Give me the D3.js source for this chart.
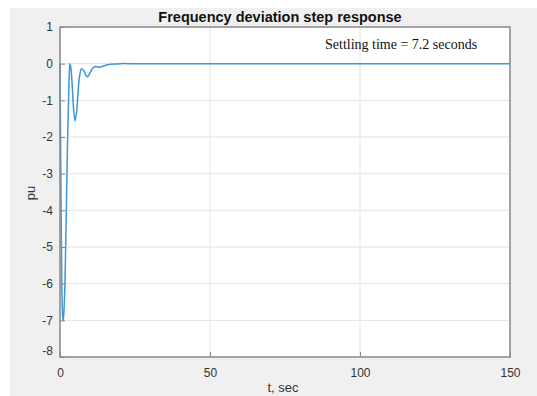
<!DOCTYPE html>
<html><head><meta charset="utf-8">
<script src="https://cdn.jsdelivr.net/npm/d3@7"></script>
<style>body{margin:0;background:#fff;}svg{display:block;}</style>
</head><body>
<script>
const title = "Frequency deviation step response";
const xLabel = "t, sec";
const yLabel = "pu";
const annotation = "Settling time = 7.2 seconds";
const xTicks = [0, 50, 100, 150];
const yTicks = [1, 0, -1, -2, -3, -4, -5, -6, -7, -8];
const tValues = [0, 0.3, 0.6, 0.9, 1.1, 1.5, 2.0, 2.5, 3.0, 3.3, 3.6, 4.0, 4.5, 5.0, 5.5, 6.0, 6.5, 7.2, 8.0, 8.6, 9.1, 9.7, 10.5, 11.2, 12.0, 13, 14, 15, 16, 18, 20, 25, 30, 150];
const yValues = [0, -3.2, -6.0, -6.9, -7.0, -6.4, -4.5, -2.2, -0.5, 0.0, -0.1, -0.5, -1.2, -1.56, -1.35, -0.8, -0.35, -0.14, -0.2, -0.32, -0.36, -0.3, -0.17, -0.1, -0.08, -0.1, -0.08, -0.05, -0.03, -0.01, 0, 0, 0, 0];

const W = 537, H = 396;
const svg = d3.select("body").append("svg").attr("width", W).attr("height", H);
svg.append("rect").attr("x", 10).attr("y", 8).attr("width", W - 10).attr("height", H - 8).attr("fill", "#f0f0f0");

const L = 60, R = 510, T = 27, B = 357;
const x = d3.scaleLinear().domain([0, 150]).range([L, R]);
const y = d3.scaleLinear().domain([-8, 1]).range([B, T]);

svg.append("rect").attr("x", L).attr("y", T).attr("width", R - L).attr("height", B - T).attr("fill", "#fff");

const grid = svg.append("g");
grid.selectAll(".gx").data(xTicks).enter().append("line")
  .attr("x1", d => x(d)).attr("x2", d => x(d)).attr("y1", T).attr("y2", B)
  .attr("stroke", "#e3e3e3").attr("stroke-width", 1);
grid.selectAll(".gy").data(yTicks).enter().append("line")
  .attr("x1", L).attr("x2", R).attr("y1", d => y(d)).attr("y2", d => y(d))
  .attr("stroke", "#e3e3e3").attr("stroke-width", 1);

const line = d3.line().x((d, i) => x(tValues[i])).y(d => y(d)).curve(d3.curveCatmullRom.alpha(0.5));
svg.append("path").datum(yValues).attr("d", line)
  .attr("fill", "none").attr("stroke", "#3d97d8").attr("stroke-width", 1.5);

const fmt = d => String(d);
const xAxis = d3.axisBottom(x).tickValues(xTicks).tickFormat(fmt).tickSizeInner(-5).tickSizeOuter(0).tickPadding(11);
const gx = svg.append("g").attr("transform", `translate(0,${B})`).call(xAxis);
const yAxis = d3.axisLeft(y).tickValues(yTicks).tickFormat(fmt).tickSizeInner(-5).tickSizeOuter(0).tickPadding(7);
const gy = svg.append("g").attr("transform", `translate(${L},0)`).call(yAxis);
[gx, gy].forEach(g => {
  g.select(".domain").remove();
  g.selectAll("line").attr("stroke", "#888");
  g.selectAll("text").attr("fill", "#333").style("font-family", "Liberation Sans, Arial, sans-serif").style("font-size", "12px");
});
gy.selectAll("text").filter(d => d === -8).attr("dy", "-0.2em");

svg.append("rect").attr("x", L).attr("y", T).attr("width", R - L).attr("height", B - T)
  .attr("fill", "none").attr("stroke", "#8a8a8a").attr("stroke-width", 1.5);

svg.append("text").attr("x", 280).attr("y", 22).attr("text-anchor", "middle")
  .style("font-family", "Liberation Sans, Arial, sans-serif").style("font-weight", "bold").style("font-size", "14.5px")
  .attr("fill", "#111").text(title);
svg.append("text").attr("x", 283).attr("y", 392).attr("text-anchor", "middle")
  .style("font-family", "Liberation Sans, Arial, sans-serif").style("font-size", "13px").attr("fill", "#333").text(xLabel);
svg.append("text").attr("transform", "translate(35,193) rotate(-90)").attr("text-anchor", "middle")
  .style("font-family", "Liberation Sans, Arial, sans-serif").style("font-size", "13px").attr("fill", "#333").text(yLabel);
svg.append("text").attr("x", 325).attr("y", 49)
  .style("font-family", "Liberation Serif, Times New Roman, serif").style("font-size", "14px").attr("fill", "#111").text(annotation);
</script>
</body></html>
